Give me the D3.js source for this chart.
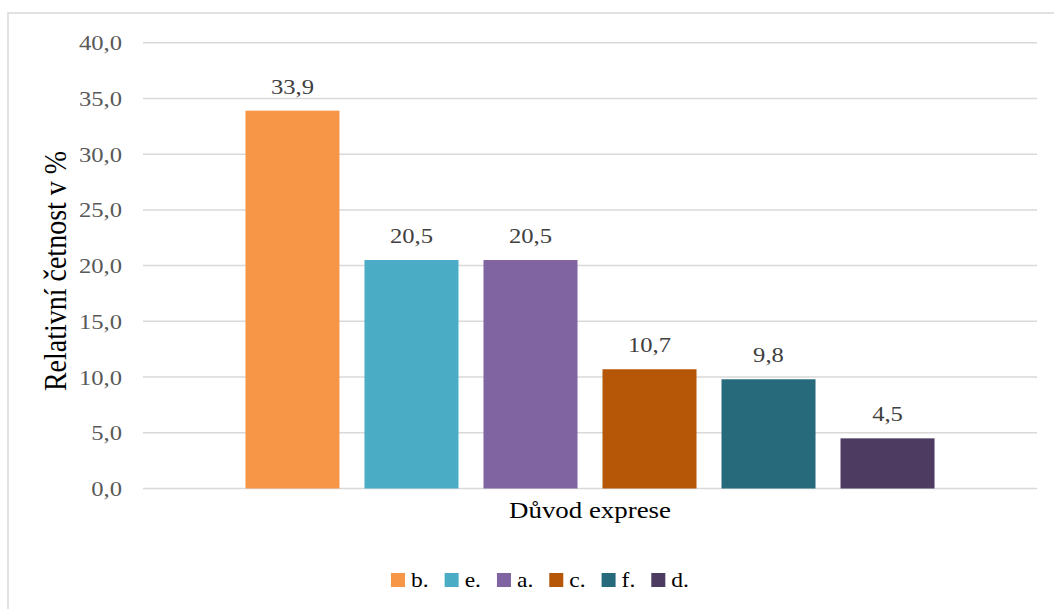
<!DOCTYPE html>
<html>
<head>
<meta charset="utf-8">
<script src="https://cdn.jsdelivr.net/npm/d3@7"></script>
<style>
  html, body { margin: 0; padding: 0; background: #fff; }
  svg { display: block; }
</style>
</head>
<body>
<svg id="chart" width="1054" height="609"></svg>
<script>
// Reasons for expression and their relative frequency (%)
const categories = ["b.", "e.", "a.", "c.", "f.", "d."];
const values = [33.9, 20.5, 20.5, 10.7, 9.8, 4.5];
const colors = ["#F79646", "#4BACC6", "#8064A2", "#B65708", "#276A7C", "#4D3B62"];
const yTicks = [0, 5, 10, 15, 20, 25, 30, 35, 40];
const xTitle = "Důvod exprese";
const yTitle = "Relativní četnost v %";

const FONT = "'Liberation Serif', 'Times New Roman', Tinos, 'DejaVu Serif', serif";
const SX = 1.12; // horizontal widening of the lettering
const fmt = v => d3.format(".1f")(v).replace(".", ",");

const svg = d3.select("#chart").style("font-family", FONT);

// text placed at (x, y) and widened horizontally
function label(parent, x, y, str, size, fill, anchor) {
  return parent.append("text")
    .attr("transform", `translate(${x},${y}) scale(${SX},1)`)
    .attr("text-anchor", anchor)
    .style("font-size", size + "px")
    .attr("fill", fill)
    .text(str);
}

// chart-area border
svg.append("rect")
  .attr("x", 8).attr("y", 13)
  .attr("width", 1080).attr("height", 620)
  .attr("fill", "none")
  .attr("stroke", "#d9d9d9")
  .attr("stroke-width", 1.5);

const plot = { left: 143, right: 1037, top: 42.7, bottom: 488.5 };

const y = d3.scaleLinear().domain([0, 40]).range([plot.bottom, plot.top]);
const x = d3.scaleBand()
  .domain(categories)
  .range([plot.left, plot.right])
  .paddingInner(0.21)
  .paddingOuter(0.861);

// gridlines
svg.append("g")
  .selectAll("line")
  .data(yTicks)
  .join("line")
  .attr("x1", plot.left).attr("x2", plot.right)
  .attr("y1", d => y(d)).attr("y2", d => y(d))
  .attr("stroke", "#d9d9d9")
  .attr("stroke-width", 1.5);

// y axis labels
const yAxis = d3.axisLeft(y).tickValues(yTicks).tickFormat(fmt).tickSize(0).tickPadding(0);
const yg = svg.append("g")
  .attr("transform", `translate(122,0)`)
  .call(yAxis)
  .attr("font-family", null)
  .attr("font-size", null);
yg.select(".domain").remove();
yg.selectAll("text")
  .attr("x", null)
  .attr("transform", `scale(${SX},1)`)
  .style("font-family", FONT)
  .style("font-size", "22px")
  .attr("fill", "#595959")
  .attr("dy", "0.32em");

// bars
svg.append("g")
  .selectAll("rect")
  .data(categories)
  .join("rect")
  .attr("x", d => x(d))
  .attr("width", x.bandwidth())
  .attr("y", (d, i) => y(values[i]))
  .attr("height", (d, i) => y(0) - y(values[i]))
  .attr("fill", (d, i) => colors[i]);

// value labels
const vl = svg.append("g");
categories.forEach((c, i) => {
  label(vl, x(c) + x.bandwidth() / 2, y(values[i]) - 17, fmt(values[i]), 22, "#404040", "middle");
});

// axis titles
label(svg, (plot.left + plot.right) / 2, 518, xTitle, 24, "#000", "middle");

svg.append("text")
  .attr("transform", `translate(66,271) scale(${SX},1) rotate(-90)`)
  .attr("text-anchor", "middle")
  .style("font-size", "28px")
  .attr("fill", "#000")
  .text(yTitle);

// legend
const legend = svg.append("g");
let lx = 391;
categories.forEach((c, i) => {
  legend.append("rect")
    .attr("x", lx).attr("y", 573)
    .attr("width", 14).attr("height", 14)
    .attr("fill", colors[i]);
  const t = label(legend, lx + 20, 587, c, 21, "#000", "start");
  lx += 20 + t.node().getComputedTextLength() * SX + 16;
});
</script>
</body>
</html>
